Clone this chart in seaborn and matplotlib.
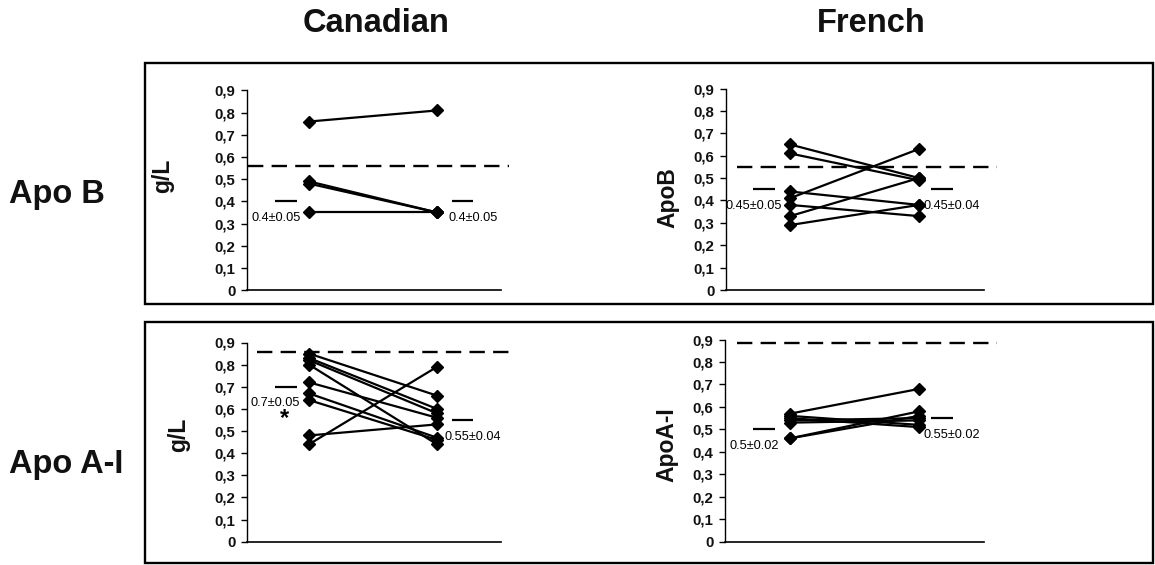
import matplotlib
matplotlib.use("Agg")
import matplotlib.pyplot as plt
import seaborn as sns
import pandas as pd
import numpy as np
from matplotlib.patches import Rectangle

# ---- data: paired values (before -> after) per subject ----
can_apob_pre = [0.76, 0.49, 0.48, 0.35]
can_apob_post = [0.81, 0.35, 0.35, 0.35]
fr_apob_pre = [0.65, 0.61, 0.44, 0.41, 0.38, 0.33, 0.29]
fr_apob_post = [0.50, 0.49, 0.38, 0.63, 0.33, 0.50, 0.38]
can_apoa_pre = [0.85, 0.83, 0.82, 0.80, 0.72, 0.67, 0.64, 0.48, 0.44]
can_apoa_post = [0.66, 0.60, 0.58, 0.44, 0.56, 0.47, 0.46, 0.53, 0.79]
fr_apoa_pre = [0.57, 0.56, 0.55, 0.54, 0.53, 0.46, 0.46]
fr_apoa_post = [0.68, 0.52, 0.51, 0.55, 0.54, 0.58, 0.56]

# reference (dashed) levels
ref_levels = [0.56, 0.55, 0.855, 0.885]

# group means and SDs (before, after)
means = [(0.4, 0.4), (0.45, 0.45), (0.7, 0.55), (0.5, 0.55)]
sds = [(0.05, 0.05), (0.05, 0.04), (0.05, 0.04), (0.02, 0.02)]

column_titles = ["Canadian", "French"]
row_titles = ["Apo B", "Apo A-I"]
y_labels = ["g/L", "ApoB", "g/L", "ApoA-I"]
y_ticks = [0, 0.1, 0.2, 0.3, 0.4, 0.5, 0.6, 0.7, 0.8, 0.9]

sns.set_style("white")
plt.rcParams["font.family"] = ["Liberation Sans", "DejaVu Sans"]
plt.rcParams["text.color"] = "#111111"
plt.rcParams["axes.labelcolor"] = "#111111"
plt.rcParams["ytick.color"] = "#111111"

W, H = 1155, 565
fig = plt.figure(figsize=(W / 100, H / 100), dpi=100)


def axes_px(left, right, top, bottom):
    return fig.add_axes([left / W, 1 - bottom / H, (right - left) / W, (bottom - top) / H])


# outer frames around each row
for top, bottom in [(63, 304), (322, 563)]:
    fig.add_artist(Rectangle((145 / W, 1 - bottom / H), (1153 - 145) / W, (bottom - top) / H,
                             transform=fig.transFigure, fill=False, ec="black", lw=1.7))

# panel geometry in pixels: x of first point, px per x-unit, axis left, right, top, bottom,
# dashed start, ylabel position (axes fraction)
panels = [
    dict(pre=can_apob_pre, post=can_apob_post, x0=309, unit=128, left=246.5, right=509,
         top=90.5, bottom=290, dash0=-0.48, lab=(-0.275, 0.57)),
    dict(pre=fr_apob_pre, post=fr_apob_post, x0=790, unit=129, left=725.5, right=997,
         top=88.5, bottom=290, dash0=-0.41, lab=(-0.17, 0.46)),
    dict(pre=can_apoa_pre, post=can_apoa_post, x0=309, unit=128, left=246.5, right=509,
         top=342.5, bottom=541.7, dash0=-0.41, lab=(-0.215, 0.535)),
    dict(pre=fr_apoa_pre, post=fr_apoa_post, x0=790, unit=129, left=724.5, right=997,
         top=339.5, bottom=541.7, dash0=-0.41, lab=(-0.17, 0.48)),
]

for i, p in enumerate(panels):
    ax = axes_px(p["left"], p["right"], p["top"], p["bottom"])
    n = len(p["pre"])
    df = pd.DataFrame({
        "subject": list(range(n)) * 2,
        "time": [0] * n + [1] * n,
        "value": list(p["pre"]) + list(p["post"]),
    })
    sns.lineplot(data=df, x="time", y="value", units="subject", estimator=None,
                 color="black", marker="D", markersize=6, markeredgecolor="black",
                 markeredgewidth=1, linewidth=1.6, legend=False, ax=ax)

    xmin = (p["left"] - p["x0"]) / p["unit"]
    xmax = (p["right"] - p["x0"]) / p["unit"]
    ax.set_xlim(xmin, xmax)
    ax.set_ylim(0, 0.9)

    # dashed reference level
    ax.hlines(ref_levels[i], p["dash0"], xmax, colors="black", linewidth=1.7,
              linestyles=(0, (6.5, 3.5)), clip_on=False)

    # group means with SD labels
    (m0, m1), (s0, s1) = means[i], sds[i]
    for xc, m, s, dx in [(-0.18 if i % 2 == 0 else -0.2, m0, s0, -0.08),
                         (1.2 if i % 2 == 0 else 1.175, m1, s1, 0.08)]:
        ax.hlines(m, xc - 0.085, xc + 0.085, colors="black", linewidth=1.6)
        ax.text(xc + dx, m - 0.075, f"{m:g}\u00b1{s:g}", ha="center", va="center",
                fontsize=9.2, color="black")

    if i == 2:
        ax.text(-0.19, 0.555, "*", ha="center", va="center", fontsize=17,
                fontweight="bold", color="black")

    # axes styling
    for side in ["top", "right"]:
        ax.spines[side].set_visible(False)
    ax.spines["left"].set_color("black")
    ax.spines["left"].set_linewidth(1.0)
    ax.spines["bottom"].set_color("black")
    ax.spines["bottom"].set_linewidth(1.2)
    ax.spines["bottom"].set_bounds(xmin, 1.5)
    ax.set_xticks([])
    ax.set_yticks(y_ticks)
    ax.set_yticklabels(["0" if v == 0 else f"{v:.1f}".replace(".", ",") for v in y_ticks])
    ax.tick_params(axis="y", direction="out", length=4, width=1, pad=4,
                   labelsize=10.8, left=True, color="black")
    for lbl in ax.get_yticklabels():
        lbl.set_fontweight("bold")
    ax.set_xlabel("")
    ax.set_ylabel(y_labels[i], fontsize=16.5, fontweight="bold")
    ax.yaxis.set_label_coords(*p["lab"])
    ax.patch.set_alpha(0)

# column and row headings
for txt, xc, yb in [(column_titles[0], 376, 32.3), (column_titles[1], 871, 31.7)]:
    fig.text(xc / W, 1 - yb / H, txt, ha="center", va="baseline", fontsize=23.5,
             fontweight="bold")
for txt, yb in [(row_titles[0], 202.7), (row_titles[1], 473.3)]:
    fig.text(9 / W, 1 - yb / H, txt, ha="left", va="baseline", fontsize=23.5,
             fontweight="bold")

fig.savefig("out.png", dpi=100)
